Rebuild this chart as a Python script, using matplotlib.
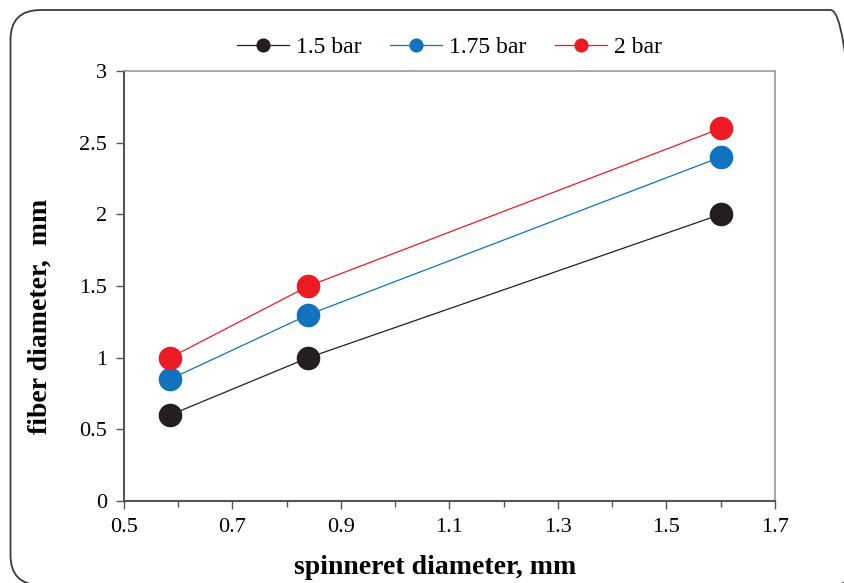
import matplotlib
matplotlib.use("Agg")
import matplotlib.pyplot as plt
from matplotlib.patches import FancyBboxPatch
from matplotlib.ticker import MultipleLocator

plt.rcParams['font.family'] = ['Liberation Serif', 'DejaVu Serif']

spinneret = [0.585, 0.84, 1.6]
series_names = ["1.5 bar", "1.75 bar", "2 bar"]
fiber_15 = [0.6, 1.0, 2.0]
fiber_175 = [0.85, 1.3, 2.4]
fiber_2 = [1.0, 1.5, 2.6]
colors = ["#231f20", "#1172be", "#ed1c24"]
xticks = [0.5, 0.7, 0.9, 1.1, 1.3, 1.5, 1.7]
yticks = [0, 0.5, 1, 1.5, 2, 2.5, 3]

W, H = 845, 583
fig = plt.figure(figsize=(W/100, H/100), dpi=100)
ax = fig.add_axes([124/W, 1-501/H, (775-124)/W, (501-71)/H])

# rounded outer border (inches, origin bottom-left)
box = FancyBboxPatch((0.105, -0.02), 8.50, (H - 10 + 2)/100,
                     boxstyle="round,pad=0,rounding_size=0.3",
                     transform=fig.dpi_scale_trans, fill=False,
                     edgecolor="#3a3a3a", linewidth=1.3, clip_on=False)
fig.add_artist(box)

for vals, name, c in zip([fiber_15, fiber_175, fiber_2], series_names, colors):
    ax.plot(spinneret, vals, '-', color=c, linewidth=0.9, marker='o',
            markersize=17, markeredgewidth=0, label=name)

ax.set_xlim(0.5, 1.7)
ax.set_ylim(0, 3)
ax.set_xticks(xticks)
ax.set_xticklabels([f"{v:g}" for v in xticks])
ax.xaxis.set_minor_locator(MultipleLocator(0.1))
ax.set_yticks(yticks)
ax.set_yticklabels([f"{v:g}" for v in yticks])

ax.tick_params(axis='both', which='major', direction='out', length=6, width=1,
               color='#555555', labelsize=16, pad=6)
ax.tick_params(axis='x', which='minor', direction='out', length=4, width=1, color='#555555')

for s in ['left', 'bottom']:
    ax.spines[s].set_color('#555555')
    ax.spines[s].set_linewidth(1.5)
for s in ['top', 'right']:
    ax.spines[s].set_color('#999999')
    ax.spines[s].set_linewidth(1.2)

ax.set_xlabel("spinneret diameter, mm", fontsize=20, fontweight='bold')
ax.set_ylabel("fiber diameter,  mm", fontsize=20, fontweight='bold')
ax.xaxis.set_label_coords(0.478, -66/430)
ax.xaxis.label.set_va('center')
ax.yaxis.set_label_coords(-84/651, 0.43)
ax.yaxis.label.set_va('center')

leg = ax.legend(loc='center', bbox_to_anchor=(0.5, 1 + 24/430), ncol=3, frameon=False,
                fontsize=17, markerscale=0.6, handlelength=2.2, columnspacing=1.2,
                handletextpad=0.3, borderaxespad=0.0)

fig.savefig("out.png", dpi=100)
